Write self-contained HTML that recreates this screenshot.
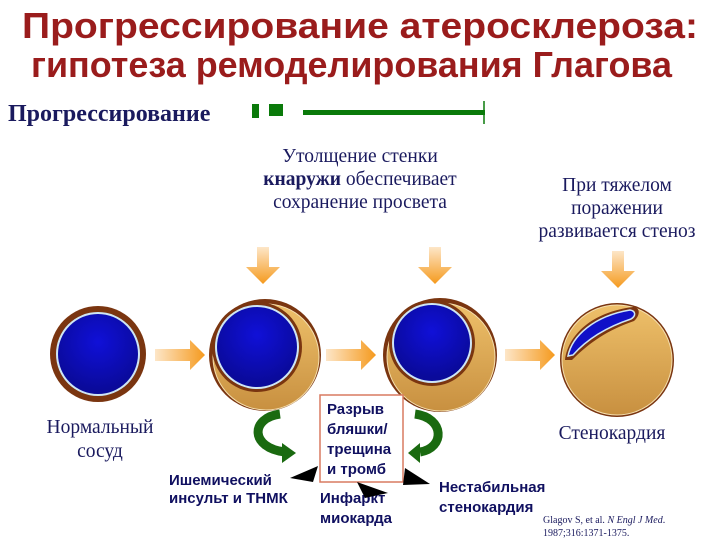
<!DOCTYPE html>
<html><head><meta charset="utf-8"><style>
body{margin:0;background:#fff;}
svg{display:block;}
.t{font-family:"Liberation Serif",serif;fill:#1a1a5e;}
.s{font-family:"Liberation Sans",sans-serif;font-weight:bold;fill:#101060;}
</style></head><body>
<svg width="720" height="540" viewBox="0 0 720 540">
<defs>
<linearGradient id="ha" x1="0" x2="1"><stop offset="0" stop-color="#fde6c8"/><stop offset="1" stop-color="#f59a1e"/></linearGradient>
<linearGradient id="va" x1="0" y1="0" x2="0" y2="1"><stop offset="0" stop-color="#fde6c8"/><stop offset="1" stop-color="#f59a1e"/></linearGradient>
<radialGradient id="bl" cx="0.5" cy="0.35" r="0.6"><stop offset="0" stop-color="#1010d8"/><stop offset="1" stop-color="#0a0a9a"/></radialGradient>
<linearGradient id="tan" x1="0" y1="0" x2="0" y2="1"><stop offset="0" stop-color="#eec06a"/><stop offset="1" stop-color="#c89040"/></linearGradient>
</defs>
<text x="22" y="38" textLength="676" lengthAdjust="spacingAndGlyphs" font-family="Liberation Sans,sans-serif" font-weight="bold" font-size="36" fill="#9a1c1c">Прогрессирование атеросклероза:</text>
<text x="31" y="77" textLength="641" lengthAdjust="spacingAndGlyphs" font-family="Liberation Sans,sans-serif" font-weight="bold" font-size="36" fill="#9a1c1c">гипотеза ремоделирования Глагова</text>
<text x="8" y="121" class="t" font-weight="bold" font-size="24" fill="#101060">Прогрессирование</text>
<rect x="252" y="104" width="7" height="14" fill="#0a7a0a"/>
<rect x="269" y="104" width="14" height="12" fill="#0a7a0a"/>
<rect x="303" y="110" width="182" height="5" fill="#0a7a0a"/>
<line x1="484" y1="101" x2="484" y2="124" stroke="#0a7a0a" stroke-width="1.5"/>
<g class="t" font-size="19.5" text-anchor="middle">
<text x="360" y="162">Утолщение стенки</text>
<text x="360" y="185"><tspan font-weight="bold">кнаружи</tspan>  обеспечивает</text>
<text x="360" y="208">сохранение просвета</text>
<text x="617" y="191">При тяжелом</text>
<text x="617" y="214">поражении</text>
<text x="617" y="237">развивается стеноз</text>
<text x="100" y="433">Нормальный</text>
<text x="100" y="457">сосуд</text>
<text x="612" y="439">Стенокардия</text>
</g>
<g fill="url(#va)">
<path d="M257 247h12v20h11l-17 17-17-17h11z"/>
<path d="M429 247h12v20h11l-17 17-17-17h11z"/>
<path d="M612 251h12v20h11l-17 17-17-17h11z"/>
</g>
<g fill="url(#ha)">
<path d="M155 349h35v-9l15 15-15 15v-9h-35z"/>
<path d="M326 349h35v-9l15 15-15 15v-9h-35z"/>
<path d="M505 349h35v-9l15 15-15 15v-9h-35z"/>
</g>
<circle cx="98" cy="354" r="48" fill="#7a3510"/>
<circle cx="98" cy="354" r="42" fill="#cfe6f5"/>
<circle cx="98" cy="354" r="40" fill="url(#bl)"/>
<circle cx="265" cy="355" r="56" fill="#7a3510"/>
<circle cx="266" cy="357" r="53" fill="url(#tan)" stroke="#f5e0b0" stroke-width="1"/>
<circle cx="257" cy="347" r="45" fill="#7a3510"/>
<circle cx="257" cy="347" r="42" fill="#cfe6f5"/>
<circle cx="257" cy="347" r="40" fill="url(#bl)"/>
<circle cx="440" cy="355" r="57" fill="#7a3510"/>
<circle cx="441" cy="357" r="54" fill="url(#tan)" stroke="#f5e0b0" stroke-width="1"/>
<circle cx="432" cy="343" r="43" fill="#7a3510"/>
<circle cx="432" cy="343" r="40" fill="#cfe6f5"/>
<circle cx="432" cy="343" r="38" fill="url(#bl)"/>
<circle cx="617" cy="360" r="57" fill="#7a3510"/>
<circle cx="617" cy="360" r="55" fill="url(#tan)" stroke="#f5e0b0" stroke-width="1"/>
<path d="M565 360 C568 335 592 312 633 307 C641 307 640 316 634 321 C608 330 590 342 572 360 Z" fill="#7a3510"/>
<path d="M568 356 C572 336 594 316 630 310 C636 311 636 316 631 319 C607 327 588 338 573 355 Z" fill="#1010c8" stroke="#cfe6f5" stroke-width="1.5"/>
<rect x="320" y="395" width="83" height="87" fill="#fff" stroke="#d87a60" stroke-width="1.5"/>
<g class="s" font-size="15">
<text x="327" y="414">Разрыв</text>
<text x="327" y="434">бляшки/</text>
<text x="327" y="454">трещина</text>
<text x="327" y="474">и тромб</text>
<text x="169" y="485">Ишемический</text>
<text x="169" y="503">инсульт и  ТНМК</text>
<text x="320" y="503">Инфаркт</text>
<text x="320" y="523">миокарда</text>
<text x="439" y="492">Нестабильная</text>
<text x="439" y="512">стенокардия</text>
</g>
<path d="M280 414 C250 418 250 448 285 452" fill="none" stroke="#1a6a10" stroke-width="9"/>
<path d="M282 443 l14 10 -14 10z" fill="#1a6a10"/>
<path d="M415 414 C445 418 445 448 420 452" fill="none" stroke="#1a6a10" stroke-width="9"/>
<path d="M420 443 l-12 10 12 10z" fill="#1a6a10"/>
<path d="M290 478 L318 466 L313 482Z" fill="#000"/>
<path d="M357 482 L388 493 L365 498Z" fill="#000"/>
<path d="M405 468 L430 484 L403 485Z" fill="#000"/>
<g font-family="Liberation Serif,serif" font-size="10" fill="#1a1a5e">
<text x="543" y="523">Glagov S, et al. <tspan font-style="italic">N Engl J Med</tspan>.</text>
<text x="543" y="536">1987;316:1371-1375.</text>
</g>
</svg>
</body></html>
